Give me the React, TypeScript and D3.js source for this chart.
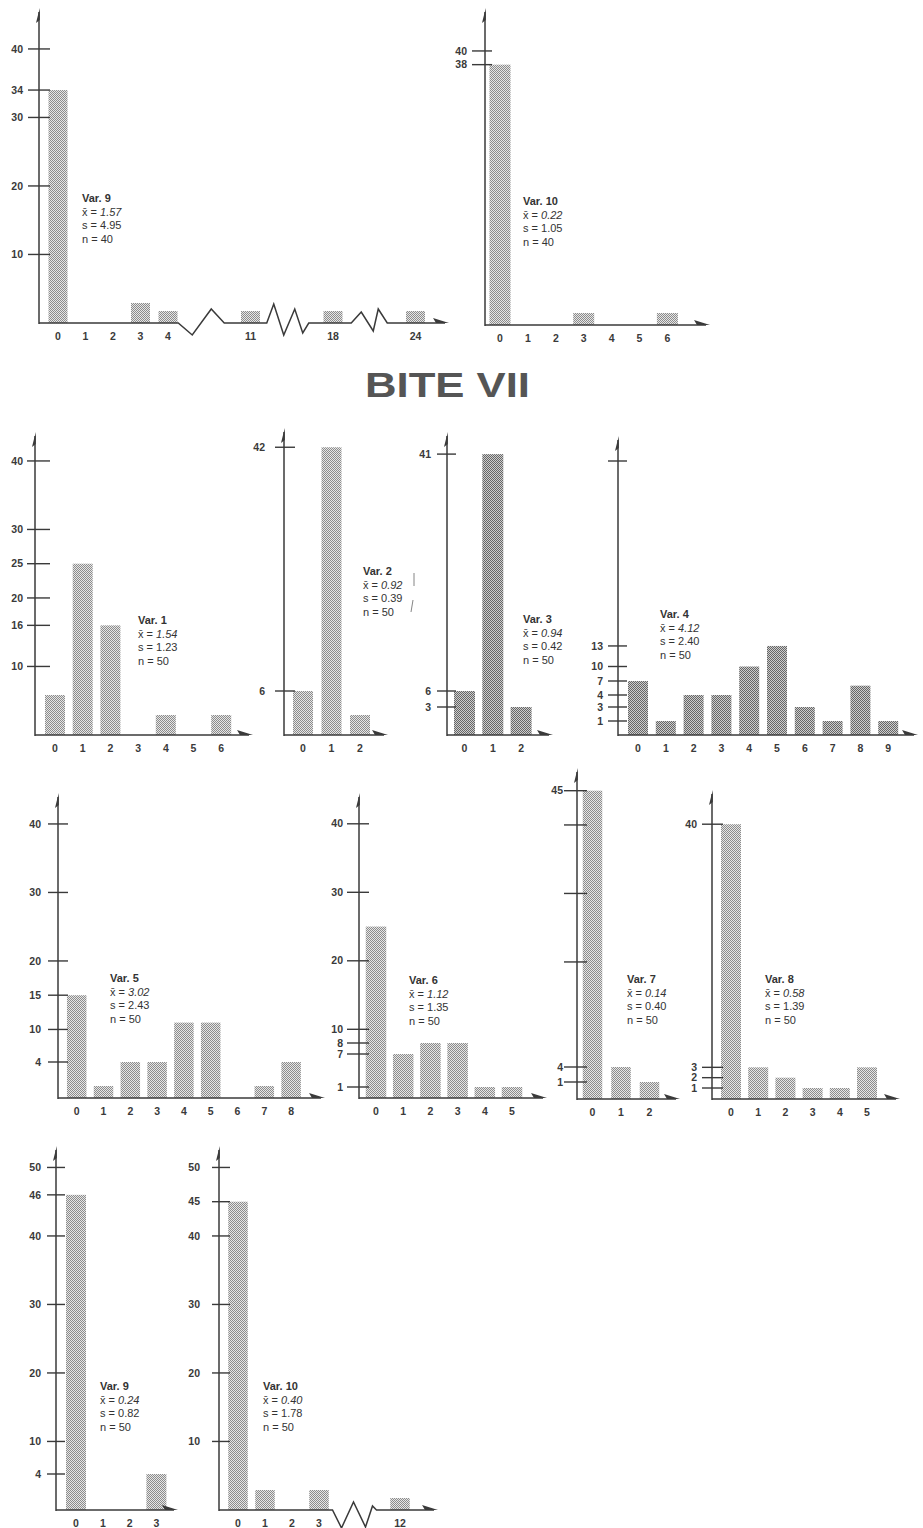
import React from 'react';
import * as d3 from 'd3';

// ---- data ----
// top row (previous bite): Var. 9 and Var. 10
const topVar9Cats = ['0', '1', '2', '3', '4', '11', '18', '24'];
const topVar9Counts = [34, 0, 0, 2, 1, 1, 1, 1];
const topVar9Ticks = [10, 20, 30, 34, 40];
const topVar9Stats = ['Var. 9', '1.57', '4.95', '40'];

const topVar10Cats = ['0', '1', '2', '3', '4', '5', '6'];
const topVar10Counts = [38, 0, 0, 1, 0, 0, 1];
const topVar10Ticks = [38, 40];
const topVar10Stats = ['Var. 10', '0.22', '1.05', '40'];

// BITE VII
const var1Cats = ['0', '1', '2', '3', '4', '5', '6'];
const var1Counts = [5, 25, 16, 0, 2, 0, 2];
const var1Ticks = [10, 16, 20, 25, 30, 40];
const var1Stats = ['Var. 1', '1.54', '1.23', '50'];

const var2Cats = ['0', '1', '2'];
const var2Counts = [6, 42, 2];
const var2Ticks = [6, 42];
const var2Stats = ['Var. 2', '0.92', '0.39', '50'];

const var3Cats = ['0', '1', '2'];
const var3Counts = [6, 41, 3];
const var3Ticks = [3, 6, 41];
const var3Stats = ['Var. 3', '0.94', '0.42', '50'];

const var4Cats = ['0', '1', '2', '3', '4', '5', '6', '7', '8', '9'];
const var4Counts = [7, 1, 4, 4, 10, 13, 3, 1, 6, 1];
const var4Ticks = [1, 3, 4, 7, 10, 13, 40];
const var4TickLabels = ['1', '3', '4', '7', '10', '13', ''];
const var4Stats = ['Var. 4', '4.12', '2.40', '50'];

const var5Cats = ['0', '1', '2', '3', '4', '5', '6', '7', '8'];
const var5Counts = [15, 1, 4, 4, 11, 11, 0, 1, 4];
const var5Ticks = [4, 10, 15, 20, 30, 40];
const var5Stats = ['Var. 5', '3.02', '2.43', '50'];

const var6Cats = ['0', '1', '2', '3', '4', '5'];
const var6Counts = [25, 7, 8, 8, 1, 1];
const var6Ticks = [1, 7, 8, 10, 20, 30, 40];
const var6Stats = ['Var. 6', '1.12', '1.35', '50'];

const var7Cats = ['0', '1', '2'];
const var7Counts = [45, 4, 1];
const var7Ticks = [1, 4, 20, 30, 40, 45];
const var7TickLabels = ['1', '4', '', '', '', '45'];
const var7Stats = ['Var. 7', '0.14', '0.40', '50'];

const var8Cats = ['0', '1', '2', '3', '4', '5'];
const var8Counts = [40, 3, 2, 1, 1, 3];
const var8Ticks = [1, 2, 3, 40];
const var8Stats = ['Var. 8', '0.58', '1.39', '50'];

const var9Cats = ['0', '1', '2', '3'];
const var9Counts = [46, 0, 0, 4];
const var9Ticks = [4, 10, 20, 30, 40, 46, 50];
const var9Stats = ['Var. 9', '0.24', '0.82', '50'];

const var10Cats = ['0', '1', '2', '3', '12'];
const var10Counts = [45, 2, 0, 2, 1];
const var10Ticks = [10, 20, 30, 40, 45, 50];
const var10Stats = ['Var. 10', '0.40', '1.78', '50'];

// the hand-drawn value axes are stretched for small counts
const PX_PER_UNIT = 6.85;
const KNOTS = [0, 1, 4, 7, 60];
const KNOT_PX = [0, 12, 36, 48, 48 + 53 * PX_PER_UNIT];

const FONT = '"Liberation Sans", Arial, Helvetica, sans-serif';
const INK = '#3a3a3a';

interface PanelSpec {
  cats: string[];
  counts: number[];
  ticks: number[];
  tickLabels?: string[];
  stats: string[];
  breaksAfter?: number[];
  zigzags?: number[][][];
  knots?: [number[], number[]];
  axisX: number;
  baseY: number;
  topY: number;
  firstX: number;
  step: number;
  barW: number;
  axisEnd: number;
  textX: number;
  textY: number;
  tickL: number;
  tickR: number;
  labelGap: number;
  dark?: boolean;
}

const panels: PanelSpec[] = [
  {
    cats: topVar9Cats, counts: topVar9Counts, ticks: topVar9Ticks, stats: topVar9Stats,
    breaksAfter: [4, 5, 6],
    zigzags: [
      [[-31, 0], [-17, 12], [2, -14], [15, 0]],
      [[-25, 0], [-18, -19], [-8, 12], [3, -14], [11, 10], [17, 0]],
      [[-23, 0], [-13, -11], [-1, 8], [4, -14], [13, 0]],
    ],
    axisX: 39, baseY: 323, topY: 8, firstX: 58, step: 27.5, barW: 19, axisEnd: 449,
    textX: 82, textY: 202, tickL: 11, tickR: 11, labelGap: 16,
  },
  {
    cats: topVar10Cats, counts: topVar10Counts, ticks: topVar10Ticks, stats: topVar10Stats,
    axisX: 485, baseY: 325, topY: 8, firstX: 500, step: 27.9, barW: 21, axisEnd: 710,
    textX: 523, textY: 205, tickL: 13, tickR: 7, labelGap: 18,
  },
  {
    cats: var1Cats, counts: var1Counts, ticks: var1Ticks, stats: var1Stats,
    axisX: 35, baseY: 735, topY: 432, firstX: 55, step: 27.7, barW: 20, axisEnd: 253,
    textX: 138, textY: 624, tickL: 8, tickR: 15, labelGap: 12,
  },
  {
    cats: var2Cats, counts: var2Counts, ticks: var2Ticks, stats: var2Stats,
    axisX: 284, baseY: 735, topY: 428, firstX: 303, step: 28.5, barW: 20, axisEnd: 388,
    textX: 363, textY: 575, tickL: 9, tickR: 11, labelGap: 19,
  },
  {
    cats: var3Cats, counts: var3Counts, ticks: var3Ticks, stats: var3Stats,
    axisX: 447, baseY: 735, topY: 432, firstX: 464.5, step: 28.3, barW: 21, axisEnd: 553,
    textX: 523, textY: 623, tickL: 10, tickR: 9, labelGap: 16, dark: true,
  },
  {
    cats: var4Cats, counts: var4Counts, ticks: var4Ticks, tickLabels: var4TickLabels, stats: var4Stats,
    knots: [[0, 1, 3, 4, 7, 10, 60], [0, 14, 28, 40, 54, 68.5, 68.5 + 50 * PX_PER_UNIT]],
    axisX: 618, baseY: 735, topY: 436, firstX: 638, step: 27.8, barW: 20, axisEnd: 918,
    textX: 660, textY: 618, tickL: 10, tickR: 9, labelGap: 15, dark: true,
  },
  {
    cats: var5Cats, counts: var5Counts, ticks: var5Ticks, stats: var5Stats,
    axisX: 58, baseY: 1098, topY: 793, firstX: 76.7, step: 26.8, barW: 19.5, axisEnd: 325,
    textX: 110, textY: 982, tickL: 10, tickR: 10, labelGap: 17,
  },
  {
    cats: var6Cats, counts: var6Counts, ticks: var6Ticks, stats: var6Stats,
    knots: [[0, 1, 7, 8, 60], [0, 11, 44, 55, 55 + 52 * PX_PER_UNIT]],
    axisX: 359, baseY: 1098, topY: 793, firstX: 376, step: 27.2, barW: 20.5, axisEnd: 547,
    textX: 409, textY: 984, tickL: 12, tickR: 10, labelGap: 16,
  },
  {
    cats: var7Cats, counts: var7Counts, ticks: var7Ticks, tickLabels: var7TickLabels, stats: var7Stats,
    knots: [[0, 1, 4, 7, 60], [0, 17, 32, 48, 48 + 53 * PX_PER_UNIT]],
    axisX: 577, baseY: 1099, topY: 768, firstX: 592.5, step: 28.5, barW: 19.5, axisEnd: 680,
    textX: 627, textY: 983, tickL: 13, tickR: 10, labelGap: 14,
  },
  {
    cats: var8Cats, counts: var8Counts, ticks: var8Ticks, stats: var8Stats,
    knots: [[0, 1, 4, 7, 60], [0, 11, 42, 50, 48 + 53 * PX_PER_UNIT]],
    axisX: 712, baseY: 1099, topY: 790, firstX: 731, step: 27.2, barW: 20, axisEnd: 900,
    textX: 765, textY: 983, tickL: 10, tickR: 11, labelGap: 15,
  },
  {
    cats: var9Cats, counts: var9Counts, ticks: var9Ticks, stats: var9Stats,
    axisX: 56, baseY: 1510, topY: 1146, firstX: 76, step: 26.8, barW: 20, axisEnd: 178,
    textX: 100, textY: 1390, tickL: 9, tickR: 9, labelGap: 15,
  },
  {
    cats: var10Cats, counts: var10Counts, ticks: var10Ticks, stats: var10Stats,
    breaksAfter: [3],
    zigzags: [[[-27, 0], [-18, 18], [-6, -8], [6, 17], [13, -4], [17, 0]]],
    axisX: 219, baseY: 1510, topY: 1146, firstX: 238, step: 27, barW: 19.5, axisEnd: 438,
    textX: 263, textY: 1390, tickL: 7, tickR: 11, labelGap: 19,
  },
];

function Panel({ p }: { p: PanelSpec }) {
  const breaks = p.breaksAfter ?? [];
  const slots: string[] = [];
  p.cats.forEach((c, i) => {
    slots.push(c);
    if (breaks.includes(i)) slots.push(`${c}~a`, `${c}~b`);
  });
  const pad = 1 - p.barW / p.step;
  const x0 = p.firstX - p.step / 2;
  const x = d3
    .scaleBand<string>()
    .domain(slots)
    .range([x0, x0 + p.step * slots.length])
    .paddingInner(pad)
    .paddingOuter(pad / 2);
  const [kd, kp] = p.knots ?? [KNOTS, KNOT_PX];
  const y = d3
    .scaleLinear()
    .domain(kd)
    .range(kp.map((v) => p.baseY - v));
  const cx = (c: string) => (x(c) ?? 0) + x.bandwidth() / 2;

  // baseline with broken-axis zigzags
  const path = d3.path();
  path.moveTo(p.axisX, p.baseY);
  breaks.forEach((bi, k) => {
    const mid = (cx(p.cats[bi]) + cx(p.cats[bi + 1])) / 2;
    (p.zigzags?.[k] ?? []).forEach(([dx, dy]) => path.lineTo(mid + dx, p.baseY + dy));
  });
  path.lineTo(p.axisEnd - 4, p.baseY);

  const fill = p.dark ? 'url(#dotsDark)' : 'url(#dotsLight)';
  const lh = 13.5;

  return (
    <g>
      {p.cats.map((c, i) =>
        p.counts[i] > 0 ? (
          <rect
            key={c}
            x={x(c)}
            y={y(p.counts[i])}
            width={x.bandwidth()}
            height={p.baseY - y(p.counts[i])}
            fill={fill}
          />
        ) : null
      )}
      {/* value axis */}
      <line x1={p.axisX} y1={p.baseY + 1} x2={p.axisX} y2={p.topY + 4} stroke={INK} strokeWidth={1.5} />
      <polygon
        points={`${p.axisX + 0.8},${p.topY} ${p.axisX - 3},${p.topY + 15} ${p.axisX + 0.8},${p.topY + 12}`}
        fill={INK}
      />
      {p.ticks.map((t, i) => (
        <g key={t}>
          <line
            x1={p.axisX - p.tickL}
            x2={p.axisX + p.tickR}
            y1={y(t)}
            y2={y(t)}
            stroke={INK}
            strokeWidth={1.4}
          />
          <text
            x={p.axisX - p.labelGap}
            y={y(t)}
            dy="0.35em"
            textAnchor="end"
            fontSize={10.5}
            fontWeight="bold"
            fill={INK}
          >
            {p.tickLabels ? p.tickLabels[i] : String(t)}
          </text>
        </g>
      ))}
      {/* category axis */}
      <path d={path.toString()} fill="none" stroke={INK} strokeWidth={1.5} strokeLinejoin="miter" />
      <polygon
        points={`${p.axisEnd},${p.baseY} ${p.axisEnd - 16},${p.baseY - 5} ${p.axisEnd - 13},${p.baseY}`}
        fill={INK}
      />
      {p.cats.map((c) => (
        <text key={c} x={cx(c)} y={p.baseY + 17} textAnchor="middle" fontSize={10.5} fontWeight="bold" fill={INK}>
          {c}
        </text>
      ))}
      {/* summary statistics */}
      <g fontSize={11} fill="#333">
        <text x={p.textX} y={p.textY} fontWeight="bold">
          {p.stats[0]}
        </text>
        <text x={p.textX} y={p.textY + lh}>
          {'x\u0304 = '}
          <tspan fontStyle="italic">{p.stats[1]}</tspan>
        </text>
        <text x={p.textX} y={p.textY + 2 * lh}>
          {'s = ' + p.stats[2]}
        </text>
        <text x={p.textX} y={p.textY + 3 * lh}>
          {'n = ' + p.stats[3]}
        </text>
      </g>
    </g>
  );
}

export default function App() {
  return (
    <svg
      width={923}
      height={1528}
      style={{ position: 'absolute', left: 0, top: 0, display: 'block', background: '#fff' }}
      fontFamily={FONT}
    >
      <defs>
        <pattern id="dotsLight" width={2} height={2} patternUnits="userSpaceOnUse">
          <rect width={2} height={2} fill="#e6e6e6" />
          <rect width={1} height={1} fill="#8c8c8c" />
          <rect x={1} y={1} width={1} height={1} fill="#8c8c8c" />
        </pattern>
        <pattern id="dotsDark" width={2} height={2} patternUnits="userSpaceOnUse">
          <rect width={2} height={2} fill="#cdcdcd" />
          <rect width={1} height={1} fill="#666" />
          <rect x={1} y={1} width={1} height={1} fill="#666" />
        </pattern>
      </defs>
      <rect width={923} height={1528} fill="#fff" />
      {panels.map((p, i) => (
        <Panel key={i} p={p} />
      ))}
      {/* pencil marks beside Var. 2 */}
      <line x1={414} y1={573} x2={414} y2={586} stroke="#666" strokeWidth={0.8} />
      <line x1={413} y1={600} x2={411} y2={612} stroke="#666" strokeWidth={0.8} />
      <text
        x={447.5}
        y={397}
        textAnchor="middle"
        fontSize={35}
        fontWeight="bold"
        fill="#555"
        textLength={165}
        lengthAdjust="spacingAndGlyphs"
      >
        BITE VII
      </text>
    </svg>
  );
}
